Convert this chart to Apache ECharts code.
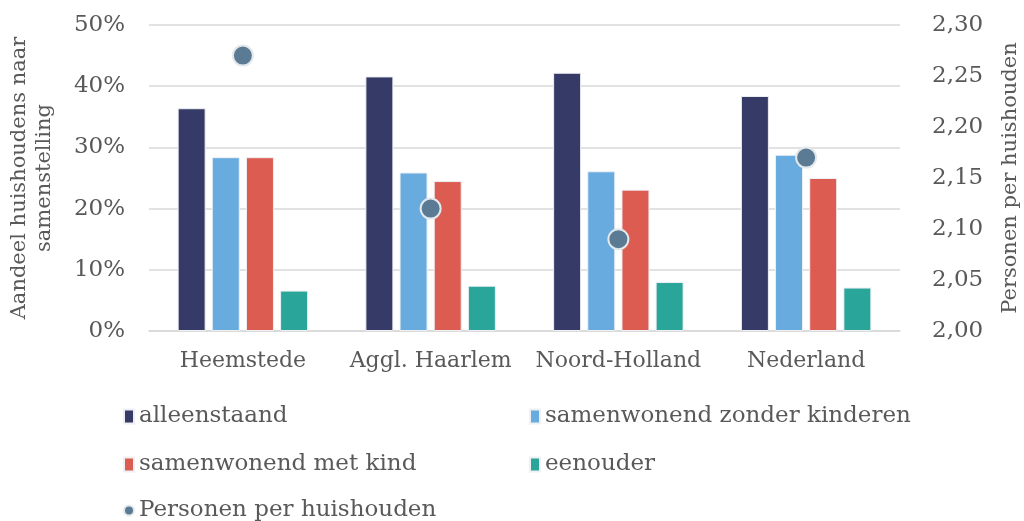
<!DOCTYPE html>
<html><head><meta charset="utf-8">
<script src="https://cdn.jsdelivr.net/npm/echarts@6/dist/echarts.min.js"></script>
<style>html,body{margin:0;padding:0;background:#fff}#c{width:1024px;height:521px}</style>
</head><body><div id="c"></div>
<script>
const categories = ['Heemstede', 'Aggl. Haarlem', 'Noord-Holland', 'Nederland'];
const alleenstaand = [36.4, 41.6, 42.2, 38.4];
const samenwonendZonder = [28.4, 25.9, 26.1, 28.8];
const samenwonendMet = [28.4, 24.5, 23.1, 25.0];
const eenouder = [6.6, 7.4, 8.0, 7.1];
const personen = [2.27, 2.12, 2.09, 2.17];
const leftTicks = [0, 10, 20, 30, 40, 50];
const rightTicks = [2.00, 2.05, 2.10, 2.15, 2.20, 2.25, 2.30];

const FONT = 'DejaVu Serif';
const TXT = '#595959';
const chart = echarts.init(document.getElementById('c'));
const barCommon = { type: 'bar', barWidth: 28, barGap: '22%' };
function lg(name, left, top, icon) {
  return { data: [name], left: left, top: top, icon: icon, itemWidth: 10, itemHeight: icon === 'circle' ? 10 : 14, itemGap: 6,
    textStyle: { fontFamily: FONT, fontSize: 23, color: TXT, padding: [0, 0, 0, 0] }, selectedMode: false };
}
chart.setOption({
  animation: false,
  textStyle: { fontFamily: FONT },
  grid: { left: 149, right: 124, top: 25, bottom: 190, containLabel: false, outerBoundsMode: 'none' },
  legend: [
    lg('alleenstaand', 118, 400, 'rect'),
    lg('samenwonend zonder kinderen', 524, 400, 'rect'),
    lg('samenwonend met kind', 118, 448, 'rect'),
    lg('eenouder', 524, 448, 'rect'),
    lg('Personen per huishouden', 118, 494, 'circle')
  ],
  xAxis: {
    type: 'category', data: categories,
    axisLine: { lineStyle: { color: '#d9d9d9', width: 1.5 } },
    axisTick: { show: false },
    axisLabel: { fontFamily: FONT, fontSize: 22, color: TXT, margin: 19, interval: 0 }
  },
  yAxis: [
    { type: 'value', min: leftTicks[0], max: leftTicks[leftTicks.length - 1], interval: 10,
      name: 'Aandeel huishoudens naar\nsamenstelling', nameLocation: 'middle', nameRotate: 90, nameGap: 92,
      nameTextStyle: { fontFamily: FONT, fontSize: 21, color: TXT, lineHeight: 25 },
      axisLabel: { formatter: '{value}%', fontFamily: FONT, fontSize: 23, color: TXT, margin: 24 },
      splitLine: { lineStyle: { color: '#d9d9d9', width: 1.5 } },
      axisLine: { show: false }, axisTick: { show: false } },
    { type: 'value', min: rightTicks[0], max: rightTicks[rightTicks.length - 1], interval: 0.05,
      name: 'Personen per huishouden', nameLocation: 'middle', nameRotate: 90, nameGap: 100,
      nameTextStyle: { fontFamily: FONT, fontSize: 21, color: TXT },
      axisLabel: { formatter: v => v.toFixed(2).replace('.', ','), fontFamily: FONT, fontSize: 23, color: TXT, margin: 32 },
      splitLine: { show: false }, axisLine: { show: false }, axisTick: { show: false } }
  ],
  series: [
    Object.assign({}, barCommon, { name: 'alleenstaand', data: alleenstaand, itemStyle: { color: '#363a67', borderColor: '#eef0f4', borderWidth: 1 } }),
    Object.assign({}, barCommon, { name: 'samenwonend zonder kinderen', data: samenwonendZonder, itemStyle: { color: '#68abdf', borderColor: '#eef0f4', borderWidth: 1 } }),
    Object.assign({}, barCommon, { name: 'samenwonend met kind', data: samenwonendMet, itemStyle: { color: '#dd5c51', borderColor: '#eef0f4', borderWidth: 1 } }),
    Object.assign({}, barCommon, { name: 'eenouder', data: eenouder, itemStyle: { color: '#29a59a', borderColor: '#eef0f4', borderWidth: 1 } }),
    { name: 'Personen per huishouden', type: 'scatter', yAxisIndex: 1, data: personen, symbolSize: 20, z: 5,
      itemStyle: { color: '#5b7b94', borderColor: '#e3e8ec', borderWidth: 2, opacity: 1 } }
  ]
});
</script></body></html>
